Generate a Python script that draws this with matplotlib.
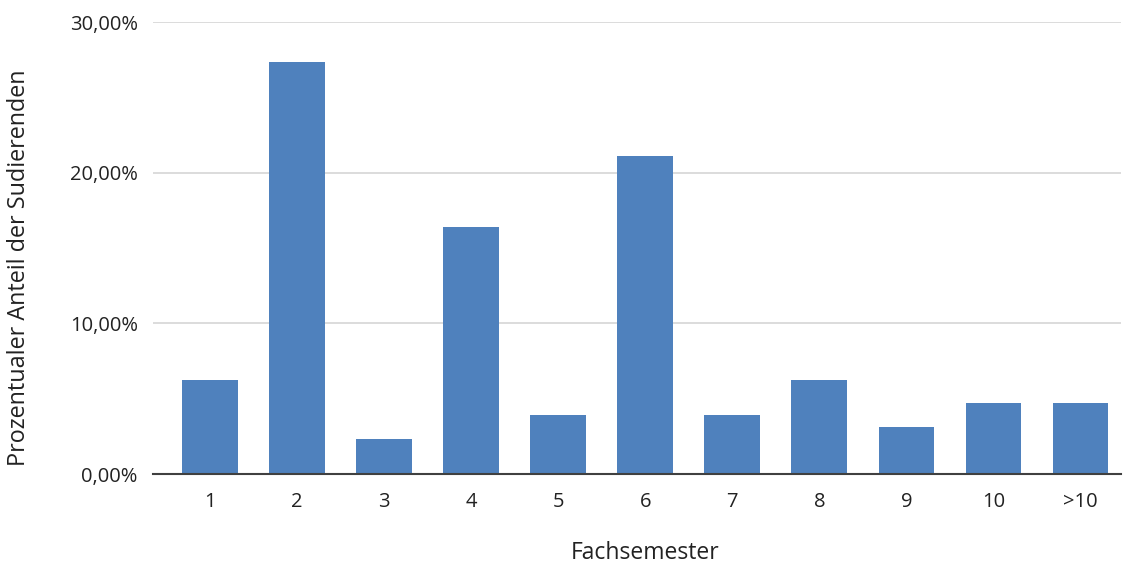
import numpy as np
import matplotlib.pyplot as plt
from matplotlib.ticker import FuncFormatter

plt.rcParams['font.family'] = ['Open Sans', 'DejaVu Sans']

semester = ["1", "2", "3", "4", "5", "6", "7", "8", "9", "10", ">10"]
anteil = [6.25, 27.34, 2.34, 16.41, 3.91, 21.09, 3.91, 6.25, 3.13, 4.69, 4.69]

fig = plt.figure(figsize=(11.29, 5.67), dpi=100)
ax = fig.add_axes([0.1355, 0.164, 0.857, 0.797])

x = np.arange(len(semester))
ax.bar(x, anteil, width=0.64, color="#4F81BD", zorder=3)

ax.set_xlim(-0.655, 10.46)
ax.set_ylim(0, 30)
ax.set_yticks([0, 10, 20, 30])
ax.yaxis.set_major_formatter(FuncFormatter(lambda v, _: f"{v:.2f}%".replace(".", ",")))
ax.set_xticks(x)
ax.set_xticklabels(semester)

ax.grid(axis="y", color="#D9D9D9", linewidth=1.3, zorder=0)
for side in ["top", "right", "left"]:
    ax.spines[side].set_visible(False)
ax.spines["bottom"].set_color("#404040")
ax.spines["bottom"].set_linewidth(1.5)
ax.spines["bottom"].set_zorder(4)
ax.tick_params(axis="x", length=0, labelsize=14.5, colors="#222222", pad=13)
ax.tick_params(axis="y", length=0, labelsize=14.5, colors="#222222", pad=11)

fig.text(0.571, 0.003, "Fachsemester", fontsize=16.5, color="#222222",
         ha="center", va="bottom")
fig.text(0.017, 0.527, "Prozentualer Anteil der Sudierenden", fontsize=16.8,
         color="#222222", rotation=90, ha="center", va="center")

fig.savefig("out.png", dpi=100)
